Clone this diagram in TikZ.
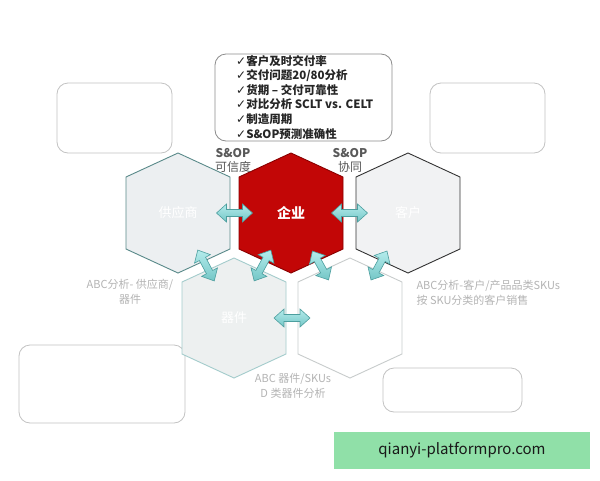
\documentclass[tikz,border=0pt]{standalone}
\usepackage{fontspec}
\setmainfont{Carlito}
\newfontfamily\cjk{Noto Sans CJK SC}
\newfontfamily\dv{DejaVu Sans}
\usetikzlibrary{calc}
\definecolor{supfill}{HTML}{ECEFF1}
\definecolor{supline}{HTML}{5A8A8A}
\definecolor{entfill}{HTML}{C20606}
\definecolor{entline}{HTML}{8A0000}
\definecolor{cusfill}{HTML}{F1F2F3}
\definecolor{cusline}{HTML}{333333}
\definecolor{devfill}{HTML}{EDF0F0}
\definecolor{devline}{HTML}{A4CCCC}
\definecolor{skufill}{HTML}{FFFFFF}
\definecolor{skuline}{HTML}{C8CCCC}
\definecolor{faint}{HTML}{B4B4B4}
\definecolor{arrtop}{HTML}{B4ECEC}
\definecolor{arrbot}{HTML}{74C6C6}
\definecolor{arrline}{HTML}{4C9E9E}
\definecolor{wmfill}{HTML}{90E0A8}
\newcommand\hexat[2]{\draw[#2] (#1) ++(0,-60) -- ++(52,24) -- ++(0,72) -- ++(-52,24) -- ++(-52,-24) -- ++(0,-72) -- cycle;}
\newcommand\chk{{\dv\fontsize{12}{15}\selectfont ✓}}
\begin{document}
\begin{tikzpicture}[x=1pt,y=-1pt,
  roundbox/.style={draw=#1, rounded corners=11pt, line width=0.8pt, fill=white},
  hexlabel/.style={text=white, font=\cjk\fontsize{13}{15}\selectfont, align=center},
  graylabel/.style={text=faint, font=\cjk\fontsize{11}{15}\selectfont},
  soplabel/.style={text=black!65, align=center, font=\cjk\fontsize{12}{14}\selectfont},
  arrowsty/.style={draw=arrline, line width=0.6pt, top color=arrtop, bottom color=arrbot, line join=miter},
  pics/dbl/.style={code={
    \draw[arrowsty] (-#1/2,0) -- (-#1/2+10,-9) -- (-#1/2+10,-3.5) -- (#1/2-10,-3.5) -- (#1/2-10,-9) -- (#1/2,0) -- (#1/2-10,9) -- (#1/2-10,3.5) -- (-#1/2+10,3.5) -- (-#1/2+10,9) -- cycle;
  }}
]
\useasboundingbox (0,0) rectangle (600,480);
\fill[white] (0,0) rectangle (600,480);

% faint text boxes
\draw[roundbox=faint!80] (57,83) rectangle (172,153);
\draw[roundbox=faint!80] (430,83) rectangle (545,153);
\draw[roundbox=faint!80] (19,345) rectangle (185,423);
\draw[roundbox=faint!80] (383,368) rectangle (522,412);

% KPI box
\draw[roundbox=black!45] (215,54) rectangle (392,141);
\node[anchor=north west, inner sep=0pt, align=left, text=black!85,
      font=\cjk\bfseries\fontsize{11.5}{14.6}\selectfont] (kpi) at (236,55)
  {\chk 客户及时交付率\\
   \chk 交付问题20/80分析\\
   \chk 货期 – 交付可靠性\\
   \chk 对比分析 SCLT vs. CELT\\
   \chk 制造周期\\
   \chk S\&OP预测准确性};

% hexagon centres
\coordinate (sup) at (178,213);
\coordinate (ent) at (291,213);
\coordinate (cus) at (408,213);
\coordinate (dev) at (234,318);
\coordinate (sku) at (350,318);

\hexat{sup}{fill=supfill, draw=supline, line width=0.9pt}
\hexat{ent}{fill=entfill, draw=entline, line width=0.9pt}
\hexat{cus}{fill=cusfill, draw=cusline, line width=0.9pt}
\hexat{dev}{fill=devfill, draw=devline, line width=0.9pt}
\hexat{sku}{fill=skufill, draw=skuline, line width=0.9pt}

\node[hexlabel] (supL) at (sup) {供应商};
\node[hexlabel, font=\cjk\bfseries\fontsize{14}{16}\selectfont] (entL) at (ent) {企业};
\node[hexlabel] (cusL) at (cus) {客户};
\node[hexlabel] (devL) at (dev) {器件};
\node[hexlabel, font=\cjk\fontsize{13}{16}\selectfont] (skuL) at (sku) {产品品类\\SKUs};

% S&OP labels
\node[soplabel] (sop1) at (233,160) {\textbf{S\&OP}\\可信度};
\node[soplabel] (sop2) at (350,160) {\textbf{S\&OP}\\协同};

% gray analysis labels
\node[graylabel, align=center] (abc1) at (130,292) {ABC分析- 供应商/\\器件};
\node[graylabel, align=left, anchor=west] (abc2) at (413,293) {ABC分析-客户/产品品类SKUs\\按 SKU分类的客户销售};
\node[graylabel, align=center] (abc3) at (293,386) {ABC 器件/SKUs\\D 类器件分析};

% double arrows between hexagons
\path (sup) -- pic[pos=.5, sloped]{dbl=36} (ent);
\path (ent) -- pic[pos=.5, sloped]{dbl=36} (cus);
\path (dev) -- pic[pos=.5, sloped]{dbl=36} (sku);
\path (sup) -- pic[pos=.5, sloped]{dbl=35} (dev);
\path (ent) -- pic[pos=.5, sloped]{dbl=35} (dev);
\path (ent) -- pic[pos=.5, sloped]{dbl=33} (sku);
\path (cus) -- pic[pos=.5, sloped]{dbl=33} (sku);

% watermark
\node[fill=wmfill, minimum width=256pt, minimum height=37pt, inner sep=0pt,
      text=black!90, font=\cjk\fontsize{15}{17}\selectfont] (wm) at (462,450.5) {qianyi-platformpro.com};
\end{tikzpicture}
\end{document}
